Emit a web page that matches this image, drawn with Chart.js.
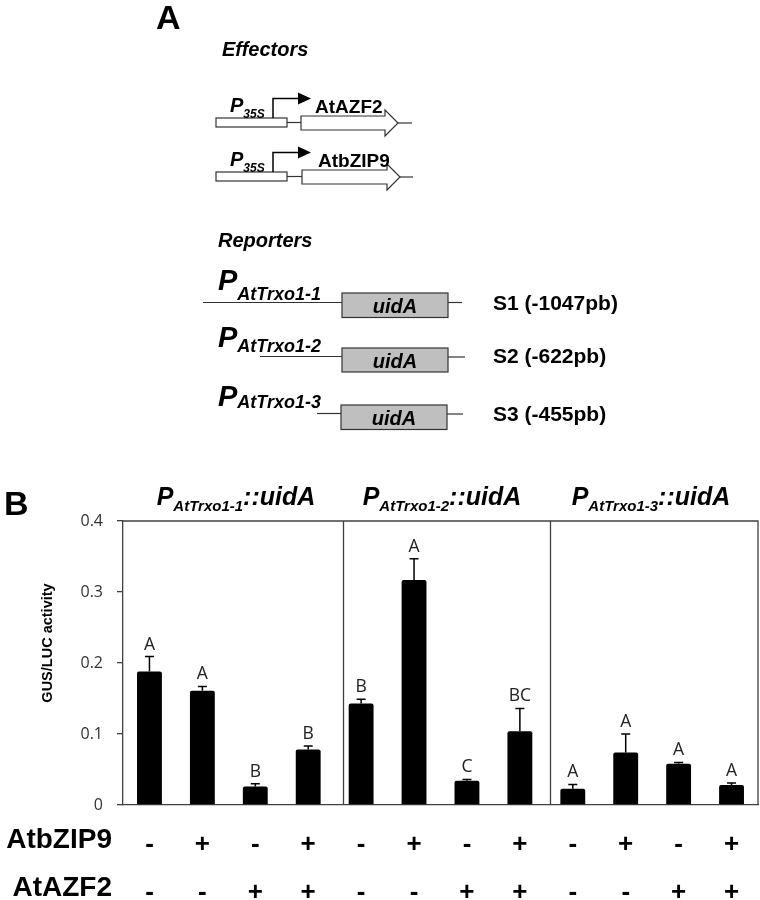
<!DOCTYPE html>
<html>
<head>
<meta charset="utf-8">
<script src="https://cdn.jsdelivr.net/npm/chart.js@4.4.1/dist/chart.umd.min.js"></script>
<style>
  html, body { margin: 0; padding: 0; background: #fff; }
  #wrap { position: relative; width: 760px; height: 900px; overflow: hidden; }
  #c { position: absolute; left: 0; top: 0; }
  #ov { position: absolute; left: 0; top: 0; pointer-events: none; }
  svg text { font-family: "Liberation Sans", Arial, sans-serif; fill: #000; }
</style>
</head>
<body>
<div id="wrap">
<canvas id="c" width="760" height="900"></canvas>
<svg id="ov" width="760" height="900" viewBox="0 0 760 900">
  <!-- Panel A -->
  <text x="156" y="29" font-size="34" font-weight="bold">A</text>
  <text x="222" y="56" font-size="20" font-weight="bold" font-style="italic">Effectors</text>

  <!-- effector 1 -->
  <g stroke="#333" stroke-width="1.2" fill="#fff">
    <rect x="216" y="118" width="71" height="9"/>
    <line x1="287" y1="122.5" x2="301" y2="122.5"/>
    <polygon points="301,116 385,116 385,110 398,123 385,136 385,130 301,130"/>
    <line x1="398" y1="123" x2="412" y2="123"/>
    <polyline points="273,118 273,98.5 300,98.5" fill="none" stroke="#000" stroke-width="1.5"/>
  </g>
  <polygon points="298,92.5 311,98.5 298,104.5" fill="#000"/>
  <text x="230" y="112" font-size="20" font-weight="bold" font-style="italic">P<tspan font-size="12" dy="6">35S</tspan></text>
  <text x="315" y="113" font-size="19" font-weight="bold">AtAZF2</text>

  <!-- effector 2 -->
  <g stroke="#333" stroke-width="1.2" fill="#fff">
    <rect x="216" y="172" width="71" height="9"/>
    <line x1="287" y1="176.5" x2="302" y2="176.5"/>
    <polygon points="302,170 387,170 387,164 400,177 387,190 387,184 302,184"/>
    <line x1="400" y1="177" x2="413" y2="177"/>
    <polyline points="273,172 273,152.5 300,152.5" fill="none" stroke="#000" stroke-width="1.5"/>
  </g>
  <polygon points="298,146.5 311,152.5 298,158.5" fill="#000"/>
  <text x="230" y="166" font-size="20" font-weight="bold" font-style="italic">P<tspan font-size="12" dy="6">35S</tspan></text>
  <text x="318" y="167" font-size="19" font-weight="bold">AtbZIP9</text>

  <text x="218" y="247" font-size="20" font-weight="bold" font-style="italic">Reporters</text>

  <!-- reporter 1 -->
  <text x="218" y="290" font-size="29" font-weight="bold" font-style="italic">P<tspan font-size="18" dy="10">AtTrxo1-1</tspan></text>
  <g stroke="#333" stroke-width="1.2">
    <line x1="203" y1="302.5" x2="342" y2="302.5"/>
    <rect x="342" y="293" width="106" height="24.5" fill="#bfbfbf"/>
    <line x1="448" y1="302.5" x2="462" y2="302.5"/>
  </g>
  <text x="395" y="313" font-size="20" font-weight="bold" font-style="italic" text-anchor="middle">uidA</text>
  <text x="493" y="310" font-size="21" font-weight="bold">S1 (-1047pb)</text>

  <!-- reporter 2 -->
  <text x="218" y="347" font-size="29" font-weight="bold" font-style="italic">P<tspan font-size="18" dy="5">AtTrxo1-2</tspan></text>
  <g stroke="#333" stroke-width="1.2">
    <line x1="260" y1="356.5" x2="342" y2="356.5"/>
    <rect x="342" y="348" width="106" height="24" fill="#bfbfbf"/>
    <line x1="448" y1="357" x2="465" y2="357"/>
  </g>
  <text x="395" y="368" font-size="20" font-weight="bold" font-style="italic" text-anchor="middle">uidA</text>
  <text x="493" y="363" font-size="21" font-weight="bold">S2 (-622pb)</text>

  <!-- reporter 3 -->
  <text x="218" y="406" font-size="29" font-weight="bold" font-style="italic">P<tspan font-size="18" dy="2">AtTrxo1-3</tspan></text>
  <g stroke="#333" stroke-width="1.2">
    <line x1="317" y1="413.5" x2="341" y2="413.5"/>
    <rect x="341" y="405" width="106" height="24.5" fill="#bfbfbf"/>
    <line x1="447" y1="414" x2="463" y2="414"/>
  </g>
  <text x="394" y="425" font-size="20" font-weight="bold" font-style="italic" text-anchor="middle">uidA</text>
  <text x="493" y="421" font-size="21" font-weight="bold">S3 (-455pb)</text>

  <!-- Panel B -->
  <text x="4" y="515" font-size="34" font-weight="bold">B</text>
  <text x="236" y="505" font-size="25" font-weight="bold" font-style="italic" text-anchor="middle">P<tspan font-size="15" dy="6">AtTrxo1-1</tspan><tspan dy="-6">::uidA</tspan></text>
  <text x="442" y="505" font-size="25" font-weight="bold" font-style="italic" text-anchor="middle">P<tspan font-size="15" dy="6">AtTrxo1-2</tspan><tspan dy="-6">::uidA</tspan></text>
  <text x="651" y="505" font-size="25" font-weight="bold" font-style="italic" text-anchor="middle">P<tspan font-size="15" dy="6">AtTrxo1-3</tspan><tspan dy="-6">::uidA</tspan></text>

  <text transform="translate(52,643) rotate(-90)" font-size="14.5" font-weight="bold" text-anchor="middle">GUS/LUC activity</text>

  <text x="112" y="848" font-size="28" font-weight="bold" text-anchor="end">AtbZIP9</text>
  <text x="112" y="896" font-size="28" font-weight="bold" text-anchor="end">AtAZF2</text>
</svg>
</div>
<script>
// ---- data ----
const atbZIP9 = ['-', '+', '-', '+', '-', '+', '-', '+', '-', '+', '-', '+'];
const atAZF2  = ['-', '-', '+', '+', '-', '-', '+', '+', '-', '-', '+', '+'];
const gusLuc   = [0.188, 0.161, 0.026, 0.078, 0.143, 0.317, 0.034, 0.104, 0.023, 0.074, 0.058, 0.028];
const gusLucSE = [0.021, 0.006, 0.004, 0.005, 0.006, 0.030, 0.002, 0.032, 0.006, 0.026, 0.002, 0.003];
const sigLetters = ['A', 'A', 'B', 'B', 'B', 'A', 'C', 'BC', 'A', 'A', 'A', 'A'];
const yTicks = [0, 0.1, 0.2, 0.3, 0.4];
const panelSplits = [3.65, 7.57]; // boundaries between promoter groups, in category units

const labels = atbZIP9.map((s, i) => [s, atAZF2[i]]);
const AXIS = '#404040';

const extras = {
  id: 'extras',
  afterDatasetsDraw(chart) {
    const ctx = chart.ctx;
    const ys = chart.scales.y, xs = chart.scales.x;
    const area = chart.chartArea;
    const meta = chart.getDatasetMeta(0);
    ctx.save();
    // error bars (upper half) and letters
    meta.data.forEach((el, i) => {
      const top = ys.getPixelForValue(gusLuc[i] + gusLucSE[i]);
      ctx.strokeStyle = '#000';
      ctx.lineWidth = 1.5;
      ctx.beginPath();
      ctx.moveTo(el.x, el.y);
      ctx.lineTo(el.x, top);
      ctx.moveTo(el.x - 4.5, top);
      ctx.lineTo(el.x + 4.5, top);
      ctx.stroke();
      ctx.fillStyle = '#222';
      ctx.font = '17.5px "Open Sans", "Liberation Sans", sans-serif';
      ctx.textAlign = 'center';
      ctx.textBaseline = 'alphabetic';
      ctx.fillText(sigLetters[i], el.x, top - 7);
    });
    // box and group dividers
    ctx.strokeStyle = AXIS;
    ctx.lineWidth = 1.3;
    ctx.beginPath();
    ctx.moveTo(area.left, area.top);
    ctx.lineTo(area.right, area.top);
    ctx.lineTo(area.right, area.bottom);
    panelSplits.forEach(v => {
      const px = Math.round(xs.getPixelForValue(v)) + 0.5;
      ctx.moveTo(px, area.top);
      ctx.lineTo(px, area.bottom);
    });
    ctx.stroke();
    ctx.restore();
  }
};

new Chart(document.getElementById('c'), {
  type: 'bar',
  data: {
    labels: labels,
    datasets: [{
      data: gusLuc,
      backgroundColor: '#000',
      borderWidth: 0,
      borderRadius: 2,
      barPercentage: 0.47,
      categoryPercentage: 1.0
    }]
  },
  options: {
    responsive: false,
    animation: false,
    devicePixelRatio: 1,
    layout: { padding: { top: 521, right: 2, left: 0, bottom: 0 } },
    plugins: { legend: { display: false }, tooltip: { enabled: false } },
    scales: {
      x: {
        offset: true,
        grid: { display: false },
        border: { display: true, color: AXIS, width: 1.3 },
        ticks: {
          autoSkip: false,
          maxRotation: 0,
          minRotation: 0,
          padding: 8,
          color: '#000',
          font: { family: '"Liberation Sans", Arial, sans-serif', size: 26, weight: 'bold', lineHeight: 48 / 26 }
        },
        afterFit(s) { s.height = 95; }
      },
      y: {
        min: 0,
        max: 0.4,
        afterBuildTicks(s) { s.ticks = yTicks.map(v => ({ value: v })); },
        grid: { display: true, drawOnChartArea: false, drawTicks: true, tickLength: 6, color: AXIS, lineWidth: 1.3 },
        border: { display: true, color: AXIS, width: 1.3 },
        ticks: {
          padding: 14,
          color: '#333',
          font: { family: '"Open Sans", "Liberation Sans", sans-serif', size: 16 }
        },
        afterFit(s) { s.width = 123; }
      }
    }
  },
  plugins: [extras]
});
</script>
</body>
</html>
